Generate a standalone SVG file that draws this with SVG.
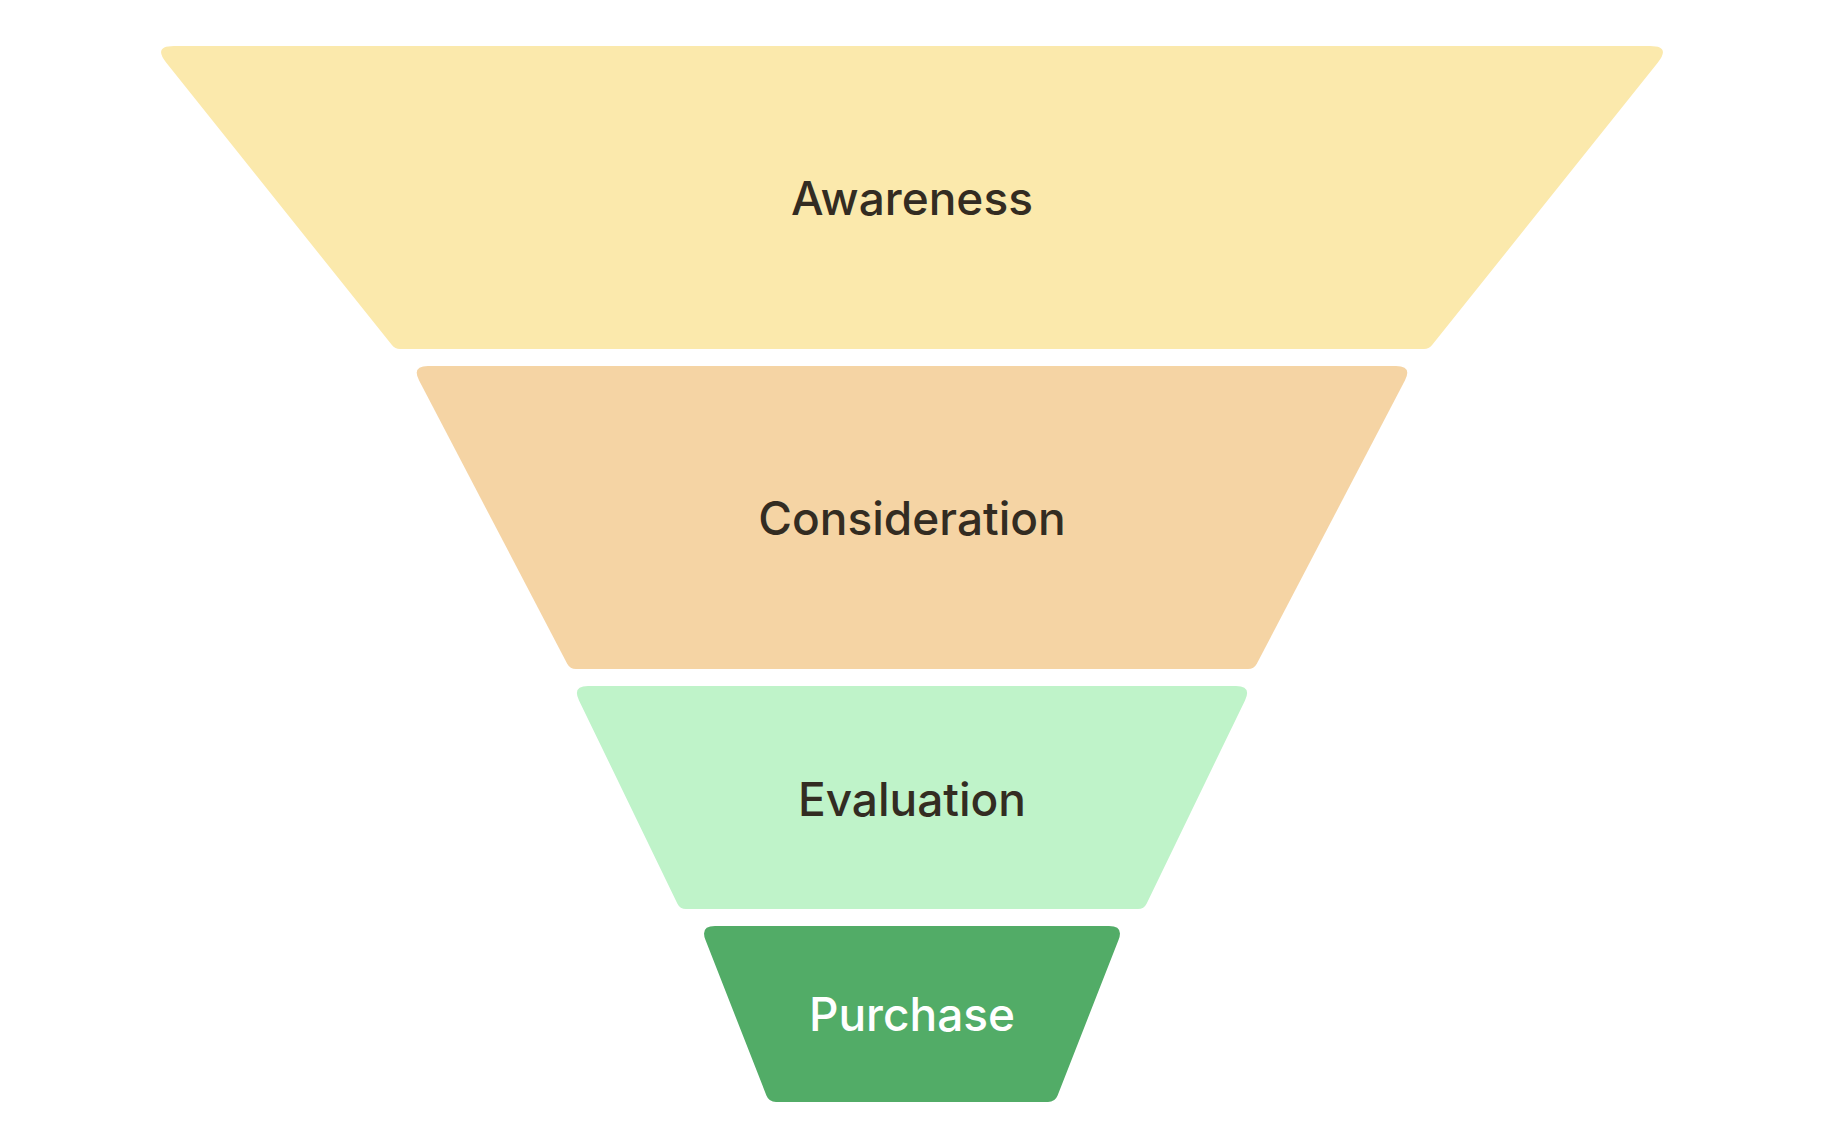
<svg xmlns="http://www.w3.org/2000/svg" width="1832" height="1148" viewBox="0 0 1832 1148">
<style>
.lbl{font-family:Inter,"Noto Sans","Liberation Sans",sans-serif;font-size:46px;font-weight:500;text-anchor:middle;fill:#332c22}
.lbl.light{fill:#ffffff}
</style>
<rect width="1832" height="1148" fill="#ffffff"/>
<g id="awareness">
<path d="M174,46 L1650,46 Q1671,46 1657.9,62.4 L1432.1,345.1 Q1429,349 1424,349 L400,349 Q395,349 391.9,345.1 L166.1,62.4 Q153,46 174,46 Z" fill="#fbe9ac"/>
<text class="lbl" x="912" y="215">Awareness</text>
</g>
<g id="consideration">
<path d="M428,366 L1396,366 Q1412.5,366 1404.9,380.6 L1256.8,663.7 Q1254,669 1248,669 L576,669 Q570,669 567.2,663.7 L419.1,380.6 Q411.5,366 428,366 Z" fill="#f5d4a4"/>
<text class="lbl" x="912" y="535">Consideration</text>
</g>
<g id="evaluation">
<path d="M588,686 L1236,686 Q1252,686 1245,700.4 L1146.7,903.4 Q1144,909 1138,909 L686,909 Q680,909 677.3,903.4 L579,700.4 Q572,686 588,686 Z" fill="#bff3c9"/>
<text class="lbl" x="912" y="816">Evaluation</text>
</g>
<g id="purchase">
<path d="M715,926 L1109,926 Q1124,926 1118.5,940 L1057.6,1095.5 Q1055,1102 1048,1102 L776,1102 Q769,1102 766.4,1095.5 L705.5,940 Q700,926 715,926 Z" fill="#52ac67"/>
<text class="lbl light" x="912" y="1031">Purchase</text>
</g>
<g id="connectors"/>
</svg>
